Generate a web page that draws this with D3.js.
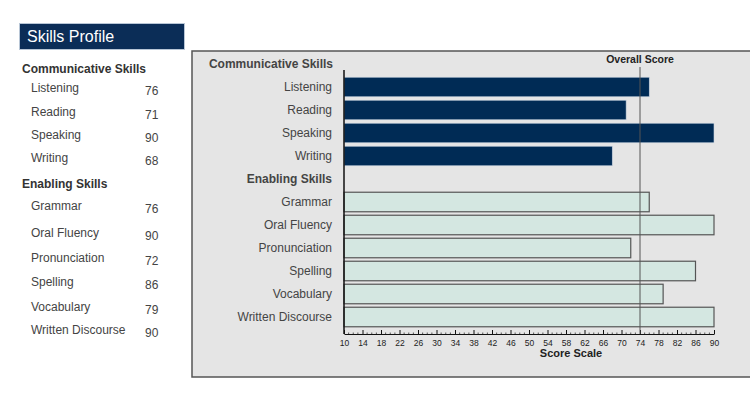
<!DOCTYPE html>
<html>
<head>
<meta charset="utf-8">
<script src="https://cdn.jsdelivr.net/npm/d3@7"></script>
<style>
  body { margin: 0; background: #fff; }
  text { font-family: "Liberation Sans", Arial, sans-serif; }
</style>
</head>
<body>
<div id="chart-area"></div>
<script>
// data
var commSkills = ["Listening", "Reading", "Speaking", "Writing"];
var commScores = [76, 71, 90, 68];
var enabSkills = ["Grammar", "Oral Fluency", "Pronunciation", "Spelling", "Vocabulary", "Written Discourse"];
var enabScores = [76, 90, 72, 86, 79, 90];
var overallScore = 74;
var scaleTicks = [10, 14, 18, 22, 26, 30, 34, 38, 42, 46, 50, 54, 58, 62, 66, 70, 74, 78, 82, 86, 90];

var width = 750, height = 393;

var svg = d3.select("#chart-area").append("svg")
    .attr("width", width)
    .attr("height", height);

// ---- left summary panel ----
svg.append("rect")
    .attr("x", 19.5).attr("y", 23.5)
    .attr("width", 165).attr("height", 26)
    .attr("fill", "#0b2d57")
    .attr("stroke", "#b8c6d6").attr("stroke-width", 1);

svg.append("text")
    .attr("x", 27).attr("y", 42)
    .attr("fill", "#fff")
    .attr("font-size", "16px")
    .text("Skills Profile");

var listRows = [{head: "Communicative Skills"}]
    .concat(commSkills.map((d, i) => ({name: d, score: commScores[i]})))
    .concat([{head: "Enabling Skills"}])
    .concat(enabSkills.map((d, i) => ({name: d, score: enabScores[i]})));

var listY = [69, 88, 112, 135, 158, 184, 206, 233, 258, 282, 307, 330];

listRows.forEach((d, i) => {
    if (d.head) {
        svg.append("text")
            .attr("x", 22).attr("y", listY[i] + 4)
            .attr("font-size", "12px")
            .attr("font-weight", "bold")
            .attr("fill", "#333")
            .text(d.head);
    } else {
        svg.append("text")
            .attr("x", 31).attr("y", listY[i] + 4)
            .attr("font-size", "12px")
            .attr("fill", "#444")
            .text(d.name);
        svg.append("text")
            .attr("x", 145).attr("y", listY[i] + 7)
            .attr("font-size", "12px")
            .attr("fill", "#444")
            .text(d.score);
    }
});

// ---- chart panel ----
svg.append("rect")
    .attr("x", 192).attr("y", 51)
    .attr("width", 570).attr("height", 326)
    .attr("fill", "#e5e5e5")
    .attr("stroke", "#555").attr("stroke-width", 1.5);

var rows = ["Communicative Skills"].concat(commSkills, ["Enabling Skills"], enabSkills);

var x = d3.scaleLinear()
    .domain([10, 90])
    .range([344, 714]);

var y = d3.scaleBand()
    .domain(rows)
    .range([52.5, 328.5])
    .paddingInner(0.15)
    .paddingOuter(0.075);

var g = svg.append("g");

// row labels
g.selectAll("text.rowlabel")
    .data(rows)
    .enter().append("text")
    .attr("class", "rowlabel")
    .attr("x", (d) => (d == "Communicative Skills") ? 333 : 332)
    .attr("y", (d) => y(d) + y.bandwidth() / 2 + 4)
    .attr("text-anchor", "end")
    .attr("font-size", "12px")
    .attr("font-weight", (d) => (d == "Communicative Skills" || d == "Enabling Skills") ? "bold" : "normal")
    .attr("fill", "#444")
    .text((d) => d);

// communicative bars
g.selectAll("rect.comm")
    .data(commSkills)
    .enter().append("rect")
    .attr("class", "comm")
    .attr("x", x(10))
    .attr("y", (d) => y(d))
    .attr("width", (d, i) => x(commScores[i]) - x(10))
    .attr("height", y.bandwidth())
    .attr("fill", "#002b55")
    .attr("stroke", "#c8d4e0").attr("stroke-width", 0.6);

// enabling bars
g.selectAll("rect.enab")
    .data(enabSkills)
    .enter().append("rect")
    .attr("class", "enab")
    .attr("x", x(10))
    .attr("y", (d) => y(d))
    .attr("width", (d, i) => x(enabScores[i]) - x(10))
    .attr("height", y.bandwidth())
    .attr("fill", "#d4e7e1")
    .attr("stroke", "#555").attr("stroke-width", 1.2);

// y axis line
g.append("line")
    .attr("x1", x(10)).attr("x2", x(10))
    .attr("y1", 70).attr("y2", 334)
    .attr("stroke", "#111").attr("stroke-width", 1.5);

// bottom axis
var axisY = 334;
var bottomAxis = d3.axisBottom(x)
    .tickValues(scaleTicks)
    .tickSize(4)
    .tickSizeOuter(0)
    .tickPadding(2);

var ax = g.append("g")
    .attr("transform", "translate(0," + (axisY - 2) + ")")
    .call(bottomAxis);
ax.select(".domain").attr("transform", "translate(0,2)").attr("stroke", "#111");
ax.selectAll(".tick line").attr("y1", -2).attr("y2", 2).attr("stroke", "#111");
ax.selectAll(".tick text")
    .attr("font-size", "8.5px")
    .attr("fill", "#222")
    .attr("dy", "0.9em")
    .style("font-family", "'Liberation Sans', Arial, sans-serif");

// minor ticks
var minor = d3.range(10, 91).filter((d) => scaleTicks.indexOf(d) < 0);
g.selectAll("line.minor")
    .data(minor)
    .enter().append("line")
    .attr("class", "minor")
    .attr("x1", (d) => x(d)).attr("x2", (d) => x(d))
    .attr("y1", axisY - 1.5).attr("y2", axisY)
    .attr("stroke", "#333").attr("stroke-width", 0.8);

g.append("text")
    .attr("x", 571).attr("y", 357)
    .attr("text-anchor", "middle")
    .attr("font-size", "11px")
    .attr("font-weight", "bold")
    .attr("fill", "#222")
    .text("Score Scale");

// overall score line
g.append("line")
    .attr("x1", x(overallScore)).attr("x2", x(overallScore))
    .attr("y1", 67).attr("y2", axisY)
    .attr("stroke", "#555").attr("stroke-width", 1);

g.append("text")
    .attr("x", x(overallScore)).attr("y", 63)
    .attr("text-anchor", "middle")
    .attr("font-size", "10.5px")
    .attr("font-weight", "bold")
    .attr("fill", "#222")
    .text("Overall Score");
</script>
</body>
</html>
